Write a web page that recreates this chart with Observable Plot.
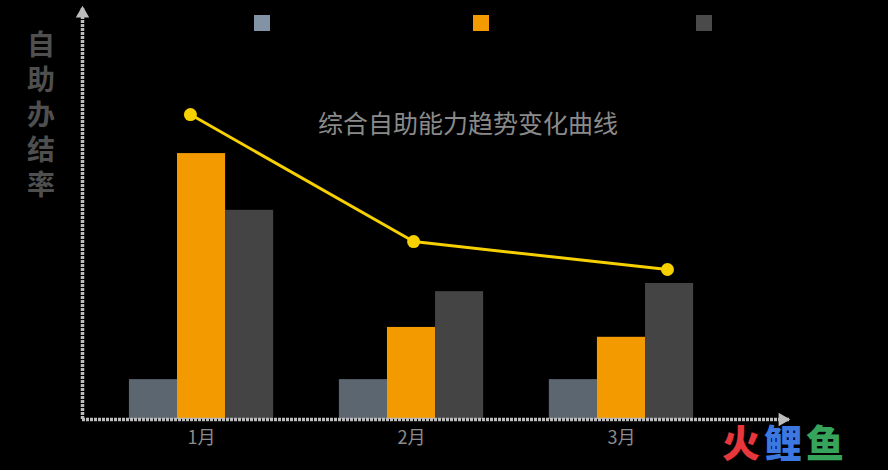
<!DOCTYPE html>
<html>
<head>
<meta charset="utf-8">
<script src="https://cdn.jsdelivr.net/npm/d3@7"></script>
<script src="https://cdn.jsdelivr.net/npm/@observablehq/plot@0.6"></script>
<style>
  html, body { margin: 0; padding: 0; background: #000; }
  #wrap { position: relative; width: 888px; height: 470px; background: #000; overflow: hidden;
          font-family: "Noto Sans CJK SC", "Noto Sans", sans-serif; }
  #chart { position: absolute; left: 0; top: 0; }
  .ylab { position: absolute; left: 27px; top: 26px; width: 28px; font-size: 28px; line-height: 35px;
          font-weight: bold; color: #4f4f4f; text-align: center; word-break: break-all; }
  .title { position: absolute; left: 318px; top: 108px; font-size: 25px; line-height: 28px; color: #8a8a8a; white-space: nowrap; }
  .sw { position: absolute; top: 15px; width: 16px; height: 16px; }
  .wm { position: absolute; left: 722px; top: 422px; font-size: 38px; font-weight: 900; line-height: 38px; white-space: nowrap; letter-spacing: 4px; }
</style>
</head>
<body>
<div id="wrap">
  <div id="chart"></div>
</div>
<script>
// ---- data ----
const months = ["1月", "2月", "3月"];
const monthPos = [1, 2, 3];
const seriesNames = ["系列1", "系列2", "系列3"];
const seriesA = [9.7, 9.7, 9.7];
const seriesB = [64.7, 22.4, 20.0];
const seriesC = [50.9, 31.1, 33.1];
const trendPos = [0.947, 2.01, 3.219];
const trendValues = [74.2, 43.3, 36.5];
const yLabel = "自助办结率";
const trendTitle = "综合自助能力趋势变化曲线";
const watermark = ["火", "鲤", "鱼"];

// ---- styles ----
const barColors = ["#5c6671", "#f29a00", "#444444"];
const legendColors = ["#8393a6", "#f29a00", "#4a4a4a"];
const lineColor = "#f7d000";
const axisColor = "#bdbdbd";
const xDomain = [0.433, 3.805];
const yDomain = [0, 100];
const barW = 0.229;

const seriesValues = [seriesA, seriesB, seriesC];
const bars = [];
seriesValues.forEach((vals, s) => {
  vals.forEach((v, i) => {
    bars.push({series: seriesNames[s], si: s, month: months[i], pos: monthPos[i], value: v});
  });
});
const trend = trendPos.map((p, i) => ({pos: p, value: trendValues[i]}));

const plot = Plot.plot({
  width: 888,
  height: 470,
  marginLeft: 82,
  marginRight: 98,
  marginTop: 8,
  marginBottom: 51,
  style: {background: "transparent", fontFamily: "'Noto Sans CJK SC', sans-serif"},
  x: {domain: xDomain},
  y: {domain: yDomain},
  marks: [
    Plot.rectY(bars, {
      x1: d => d.pos + (d.si - 1.5) * barW,
      x2: d => d.pos + (d.si - 0.5) * barW,
      y1: 0,
      y2: "value",
      fill: d => barColors[d.si]
    }),
    Plot.ruleX([xDomain[0]], {stroke: axisColor, strokeWidth: 3.5, strokeDasharray: "3,1"}),
    Plot.ruleY([0], {stroke: axisColor, strokeWidth: 3.5, strokeDasharray: "3,1"}),
    Plot.dot([0], {x: () => xDomain[1], y: () => yDomain[0], symbol: "triangle", r: 5, rotate: 90, dx: -8, fill: axisColor}),
    Plot.dot([0], {x: () => xDomain[0], y: () => yDomain[1], symbol: "triangle", r: 5, dy: 5, fill: axisColor}),
    Plot.line(trend, {x: "pos", y: "value", stroke: lineColor, strokeWidth: 3}),
    Plot.dot(trend, {x: "pos", y: "value", r: 6.5, fill: lineColor}),
    Plot.axisX(monthPos, {tickSize: 0, tickPadding: 12, tickFormat: (d, i) => months[i], fontSize: 18, fill: "#8c8c8c", label: null}),
    Plot.axisY({ticks: [], label: null})
  ]
});
document.getElementById("chart").appendChild(plot);

const wrap = document.getElementById("wrap");
const yl = document.createElement("div");
yl.className = "ylab";
yl.textContent = yLabel;
wrap.appendChild(yl);

const t = document.createElement("div");
t.className = "title";
t.textContent = trendTitle;
wrap.appendChild(t);

const swLeft = [254, 473, 696];
legendColors.forEach((c, i) => {
  const s = document.createElement("div");
  s.className = "sw";
  s.style.left = swLeft[i] + "px";
  s.style.background = c;
  s.title = seriesNames[i];
  wrap.appendChild(s);
});

const wm = document.createElement("div");
wm.className = "wm";
const wmColors = ["#e8373c", "#3c78e0", "#36a45a"];
watermark.forEach((ch, i) => {
  const sp = document.createElement("span");
  sp.textContent = ch;
  sp.style.color = wmColors[i];
  wm.appendChild(sp);
});
wrap.appendChild(wm);
</script>
</body>
</html>
